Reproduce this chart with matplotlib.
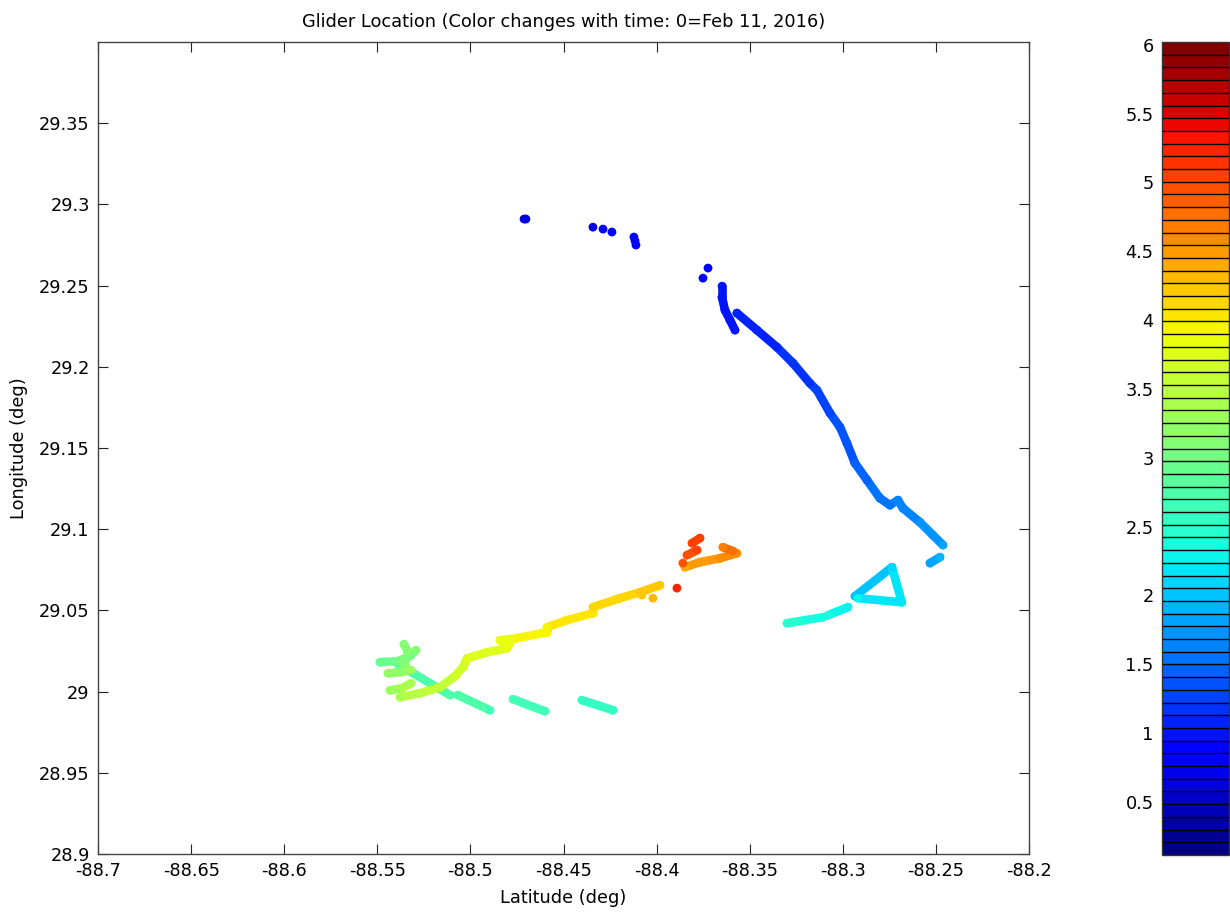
#!/usr/bin/env python3
"""Glider track coloured by days since Feb 11, 2016 (MATLAB-style jet scatter)."""

import numpy as np
import matplotlib

matplotlib.use("Agg")
import matplotlib.pyplot as plt
from matplotlib.collections import LineCollection
from matplotlib.colors import BoundaryNorm, Normalize
from matplotlib.cm import ScalarMappable

# each leg: (lon, lat, days)
leg_blue_short = [
    (-88.3649, 29.2497, 0.95), (-88.3649, 29.2429, 0.96), (-88.3633, 29.2349, 0.97),
    (-88.3606, 29.2288, 0.99), (-88.3579, 29.2226, 1.00),
]
leg_blue_main = [
    (-88.3569, 29.2331, 1.05), (-88.3461, 29.2226, 1.08), (-88.3354, 29.2121, 1.12),
    (-88.3268, 29.2023, 1.16), (-88.3177, 29.1899, 1.22), (-88.3139, 29.1856, 1.25),
    (-88.3069, 29.1715, 1.30), (-88.3015, 29.1628, 1.34), (-88.2978, 29.1530, 1.38),
    (-88.2935, 29.1407, 1.43), (-88.2870, 29.1302, 1.48), (-88.2801, 29.1191, 1.54),
    (-88.2747, 29.1148, 1.58), (-88.2704, 29.1179, 1.61), (-88.2677, 29.1129, 1.64),
    (-88.2586, 29.1043, 1.70), (-88.2516, 29.0963, 1.75), (-88.2462, 29.0902, 1.79),
]
leg_blue_tail = [(-88.2532, 29.0791, 1.85), (-88.2478, 29.0828, 1.88)]
leg_triangle = [
    (-88.2935, 29.0587, 2.00), (-88.2736, 29.0766, 2.10),
    (-88.2683, 29.0550, 2.20), (-88.2919, 29.0575, 2.26),
]
leg_cyan_1 = [(-88.2972, 29.0520, 2.30), (-88.3080, 29.0470, 2.33)]
leg_cyan_2 = [(-88.3107, 29.0458, 2.36), (-88.3203, 29.0440, 2.40), (-88.3300, 29.0421, 2.45)]
leg_dash_1 = [(-88.4234, 28.9885, 2.55), (-88.4401, 28.9947, 2.60)]
leg_dash_2 = [(-88.4600, 28.9879, 2.62), (-88.4771, 28.9953, 2.66)]
leg_dash_3 = [(-88.4895, 28.9885, 2.68), (-88.5067, 28.9978, 2.72)]
leg_dash_4 = [(-88.5110, 28.9978, 2.74), (-88.5308, 29.0113, 2.78), (-88.5389, 29.0168, 2.82)]
leg_green_1 = [
    (-88.5486, 29.0181, 2.95), (-88.5389, 29.0187, 3.00),
    (-88.5325, 29.0218, 3.05), (-88.5292, 29.0255, 3.08),
]
leg_green_2 = [
    (-88.5357, 29.0292, 3.10), (-88.5335, 29.0242, 3.12),
    (-88.5357, 29.0168, 3.15), (-88.5335, 29.0132, 3.18),
]
leg_green_3 = [(-88.5443, 29.0113, 3.22), (-88.5378, 29.0119, 3.25), (-88.5319, 29.0132, 3.28)]
leg_green_4 = [(-88.5432, 29.0008, 3.32), (-88.5368, 29.0021, 3.35), (-88.5319, 29.0051, 3.38)]
leg_yellow = [
    (-88.5378, 28.9965, 3.42), (-88.5271, 28.9990, 3.50), (-88.5163, 29.0027, 3.58),
    (-88.5083, 29.0095, 3.64), (-88.5040, 29.0150, 3.68), (-88.5018, 29.0205, 3.72),
    (-88.4911, 29.0242, 3.78), (-88.4804, 29.0267, 3.83), (-88.4788, 29.0298, 3.85),
    (-88.4841, 29.0316, 3.87), (-88.4750, 29.0329, 3.90), (-88.4589, 29.0366, 3.96),
    (-88.4589, 29.0396, 3.98), (-88.4481, 29.0440, 4.02), (-88.4342, 29.0483, 4.07),
    (-88.4342, 29.0520, 4.09), (-88.4197, 29.0575, 4.15), (-88.4089, 29.0612, 4.19),
    (-88.3982, 29.0655, 4.23),
]
leg_orange = [
    (-88.3848, 29.0766, 4.45), (-88.3767, 29.0797, 4.50),
    (-88.3660, 29.0821, 4.55), (-88.3569, 29.0852, 4.62),
]
leg_orange_end = [(-88.3644, 29.0889, 4.70), (-88.3590, 29.0865, 4.76)]
leg_red_1 = [(-88.3837, 29.0840, 4.98), (-88.3783, 29.0871, 5.02)]
leg_red_2 = [(-88.3810, 29.0914, 5.05), (-88.3767, 29.0945, 5.08)]

# isolated fixes
dot_lon = [-88.4712, -88.4702, -88.4342, -88.4288, -88.4240, -88.4122, -88.4116, -88.4111,
           -88.3724, -88.3751, -88.4079, -88.4020, -88.3891, -88.3859]
dot_lat = [29.2910, 29.2910, 29.2860, 29.2848, 29.2830, 29.2799, 29.2775, 29.2750,
           29.2608, 29.2546, 29.0594, 29.0575, 29.0637, 29.0791]
dot_t = [0.62, 0.64, 0.75, 0.80, 0.85, 0.88, 0.89, 0.90,
         0.92, 0.93, 4.25, 4.27, 5.20, 5.00]

legs = [leg_blue_short, leg_blue_main, leg_blue_tail, leg_triangle, leg_cyan_1, leg_cyan_2,
        leg_dash_1, leg_dash_2, leg_dash_3, leg_dash_4, leg_green_1, leg_green_2,
        leg_green_3, leg_green_4, leg_yellow, leg_orange, leg_orange_end, leg_red_1, leg_red_2]

T_MIN, T_MAX = 0.115, 6.02
cbar_ticks = [0.5, 1, 1.5, 2, 2.5, 3, 3.5, 4, 4.5, 5, 5.5, 6]
x_ticks = [-88.7, -88.65, -88.6, -88.55, -88.5, -88.45, -88.4, -88.35, -88.3, -88.25, -88.2]
y_ticks = [28.9, 28.95, 29.0, 29.05, 29.1, 29.15, 29.2, 29.25, 29.3, 29.35]

FS = 12.8
plt.rcParams["font.family"] = ["DejaVu Sans"]

cmap = plt.get_cmap("jet", 64)
norm = Normalize(vmin=T_MIN, vmax=T_MAX)

fig = plt.figure(figsize=(12.3, 9.22), dpi=100)
ax = fig.add_axes([0.0797, 0.0738, 0.7569, 0.8806])

lw = 6.2
for leg in legs:
    arr = np.array(leg)
    pts = arr[:, :2]
    segs = np.stack([pts[:-1], pts[1:]], axis=1)
    mid_t = (arr[:-1, 2] + arr[1:, 2]) / 2
    lc = LineCollection(segs, colors=cmap(norm(mid_t)), linewidths=lw, capstyle="round",
                        joinstyle="round")
    ax.add_collection(lc)
    ax.scatter(arr[:, 0], arr[:, 1], c=arr[:, 2], cmap=cmap, norm=norm, s=lw ** 2,
               linewidths=0, zorder=3)

ax.scatter(dot_lon, dot_lat, c=dot_t, cmap=cmap, norm=norm, s=40, linewidths=0, zorder=4)

ax.set_xlim(-88.7, -88.2)
ax.set_ylim(28.9, 29.4)
ax.set_xticks(x_ticks)
ax.set_xticklabels([f"{v:g}" for v in x_ticks])
ax.set_yticks(y_ticks)
ax.set_yticklabels([f"{v:g}" for v in y_ticks])
ax.tick_params(direction="in", top=True, right=True, length=7, width=0.8,
               labelsize=FS, pad=6, colors="#222222", labelcolor="black")
for sp in ax.spines.values():
    sp.set_color("#444444")
    sp.set_linewidth(1.0)

ax.set_xlabel("Latitude (deg)", fontsize=FS, labelpad=6)
ax.set_ylabel("Longitude (deg)", fontsize=FS, labelpad=8)
ax.set_title("Glider Location (Color changes with time: 0=Feb 11, 2016)", fontsize=FS, pad=11)

cax = fig.add_axes([0.9447, 0.0727, 0.0545, 0.8817])
bounds = np.linspace(T_MIN, T_MAX, 65)
sm = ScalarMappable(norm=BoundaryNorm(bounds, 64), cmap=cmap)
cbar = fig.colorbar(sm, cax=cax, drawedges=True, ticks=cbar_ticks)
cbar.dividers.set_color("black")
cbar.dividers.set_linewidth(1.0)
cbar.outline.set_edgecolor("#333333")
cbar.outline.set_linewidth(1.0)
cax.minorticks_off()
cax.yaxis.set_ticks_position("left")
cax.yaxis.set_label_position("left")
cax.set_yticks(cbar_ticks)
cax.set_yticklabels([f"{v:g}" for v in cbar_ticks])
cax.tick_params(which="both", length=0, labelsize=FS, pad=6)

fig.savefig("out.png", dpi=100)
